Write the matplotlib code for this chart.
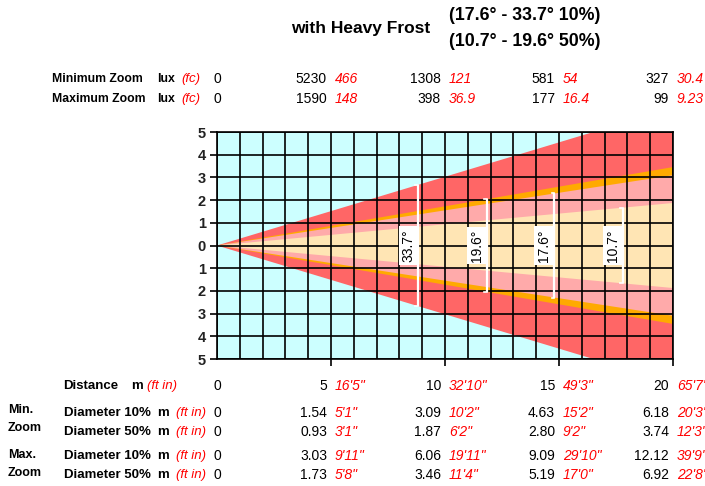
import matplotlib
matplotlib.use("Agg")
import matplotlib.pyplot as plt
import numpy as np
from matplotlib.transforms import blended_transform_factory, ScaledTranslation

plt.rcParams['font.family'] = ['Liberation Sans', 'DejaVu Sans']

# ---------------- data ----------------
distances = [0, 5, 10, 15, 20]
distance_ft = ["", "16'5\"", "32'10\"", "49'3\"", "65'7\""]
lux_min = ["0", "5230", "1308", "581", "327"]
fc_min = ["", "466", "121", "54", "30.4"]
lux_max = ["0", "1590", "398", "177", "99"]
fc_max = ["", "148", "36.9", "16.4", "9.23"]
min_d10 = ["0", "1.54", "3.09", "4.63", "6.18"]
min_d10_ft = ["", "5'1\"", "10'2\"", "15'2\"", "20'3\""]
min_d50 = ["0", "0.93", "1.87", "2.80", "3.74"]
min_d50_ft = ["", "3'1\"", "6'2\"", "9'2\"", "12'3\""]
max_d10 = ["0", "3.03", "6.06", "9.09", "12.12"]
max_d10_ft = ["", "9'11\"", "19'11\"", "29'10\"", "39'9\""]
max_d50 = ["0", "1.73", "3.46", "5.19", "6.92"]
max_d50_ft = ["", "5'8\"", "11'4\"", "17'0\"", "22'8\""]

beam_angles = [33.7, 19.6, 17.6, 10.7]
beam_colors = ['#FF6666', '#FFAA00', '#FFAAAA', '#FFE5B4']
marker_labels = ["33.7°", "19.6°", "17.6°", "10.7°"]
marker_dist = [8.8, 11.85, 14.8, 17.8]
label_dist = [8.4, 11.4, 14.35, 17.35]
y_ticks = [-5, -4, -3, -2, -1, 0, 1, 2, 3, 4, 5]
y_ticklabels = ["5", "4", "3", "2", "1", "0", "1", "2", "3", "4", "5"]

W, H = 705, 486
fig = plt.figure(figsize=(W / 100, H / 100), dpi=100)
fig.patch.set_facecolor('white')

gl, gt, gr, gb = 217, 132, 673, 359
ax = fig.add_axes([gl / W, 1 - gb / H, (gr - gl) / W, (gb - gt) / H])
ax.set_xlim(0, 20)
ax.set_ylim(-5, 5)
ax.set_facecolor('#CCFFFF')

for ang, col in zip(beam_angles, beam_colors):
    t = np.tan(np.radians(ang / 2))
    ax.fill([0, 20, 20], [0, t * 20, -t * 20], color=col, lw=0, zorder=1)

# grid
for gx in range(0, 21):
    ax.axvline(gx, color='black', lw=1.2, zorder=3)
for gy in range(-5, 6):
    ax.axhline(gy, color='black', lw=1.2, zorder=3)

# dimension markers
for ang, lab, md, ld in zip(beam_angles, marker_labels, marker_dist, label_dist):
    half = np.tan(np.radians(ang / 2)) * md
    ax.plot([md, md], [-half, half], color='white', lw=1.6, zorder=4, solid_capstyle='butt')
    ax.plot([md - 0.12, md], [half, half], color='white', lw=1.2, zorder=4)
    ax.plot([md - 0.12, md], [-half, -half], color='white', lw=1.2, zorder=4)
    ax.text(ld, 0, lab, rotation=90, ha='center', va='center', fontsize=10,
            color='black', zorder=5,
            bbox=dict(boxstyle='square,pad=0.2', fc='white', ec='none'))

ax.set_yticks(y_ticks)
ax.set_yticklabels(y_ticklabels, fontsize=10.5, fontweight='bold', color='#222222')
ax.set_xticks(distances[1:])
ax.set_xticklabels([])
ax.tick_params(axis='both', length=5, width=1.2, color='black', direction='out', pad=3)
for s in ax.spines.values():
    s.set_linewidth(1.2)
    s.set_zorder(6)

# ---------------- texts ----------------
def fy(y):
    return 1 - y / H

def fx(x):
    return x / W

fig.text(fx(361), fy(28), "with Heavy Frost", fontsize=12.5, fontweight='bold',
         ha='center', va='center')
fig.text(fx(525), fy(15), "(17.6° - 33.7° 10%)", fontsize=12.8, fontweight='bold',
         ha='center', va='center')
fig.text(fx(525), fy(42), "(10.7° - 19.6° 50%)", fontsize=12.8, fontweight='bold',
         ha='center', va='center')

bt = blended_transform_factory(ax.transData, fig.transFigure)
left_off = ScaledTranslation(-4 / 100, 0, fig.dpi_scale_trans)
right_off = ScaledTranslation(4 / 100, 0, fig.dpi_scale_trans)
fs = 10


def value_row(y, blacks, reds):
    for d, b, r in zip(distances, blacks, reds):
        if d == 0:
            fig.text(d, fy(y), b, transform=bt, ha='center', va='center', fontsize=fs)
            continue
        fig.text(d, fy(y), b, transform=bt + left_off, ha='right', va='center', fontsize=fs)
        fig.text(d, fy(y), r, transform=bt + right_off, ha='left', va='center',
                 fontsize=fs, color='red', style='italic')


# lux rows
for y, lab, bl, rd in [(79, "Minimum Zoom", lux_min, fc_min), (99, "Maximum Zoom", lux_max, fc_max)]:
    fig.text(fx(52), fy(y), lab, fontsize=8.8, fontweight='bold', ha='left', va='center')
    fig.text(fx(157), fy(y), "lux", fontsize=8.8, fontweight='bold', ha='left', va='center')
    fig.text(fx(181), fy(y), "(fc)", fontsize=9.5, color='red', style='italic', ha='left', va='center')
    value_row(y, bl, rd)

# distance row
fig.text(fx(63), fy(386), "Distance", fontsize=9.5, fontweight='bold', ha='left', va='center')
fig.text(fx(131), fy(386), "m", fontsize=9.5, fontweight='bold', ha='left', va='center')
fig.text(fx(147), fy(386), "(ft in)", fontsize=9.5, color='red', style='italic', ha='left', va='center')
value_row(386, [str(d) for d in distances], distance_ft)

rows = [(413, "Diameter 10%", min_d10, min_d10_ft),
        (432, "Diameter 50%", min_d50, min_d50_ft),
        (456, "Diameter 10%", max_d10, max_d10_ft),
        (475, "Diameter 50%", max_d50, max_d50_ft)]
for y, lab, bl, rd in rows:
    fig.text(fx(64), fy(y), lab, fontsize=9.5, fontweight='bold', ha='left', va='center')
    fig.text(fx(157), fy(y), "m", fontsize=9.5, fontweight='bold', ha='left', va='center')
    fig.text(fx(176), fy(y), "(ft in)", fontsize=9.5, color='red', style='italic', ha='left', va='center')
    value_row(y, bl, rd)

for y, lab in [(410, "Min."), (428, "Zoom"), (455, "Max."), (473, "Zoom")]:
    fig.text(fx(8), fy(y), lab, fontsize=9, fontweight='bold', ha='left', va='center')

fig.savefig("out.png", dpi=100)
